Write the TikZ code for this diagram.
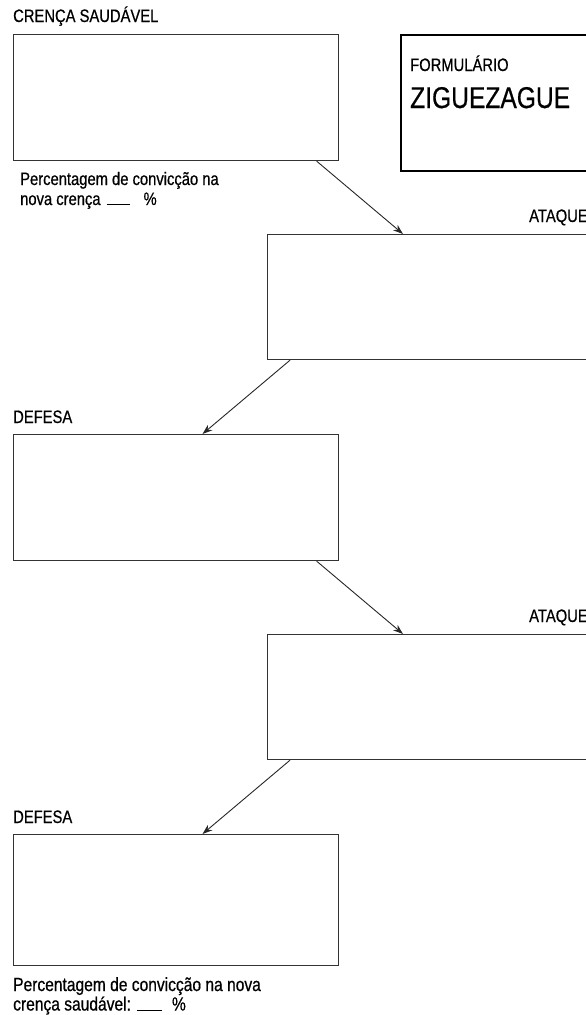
\documentclass[tikz,border=0pt]{standalone}
\usepackage{fontspec}
\setmainfont{Liberation Sans}[FakeStretch=0.82, FakeBold=0.6]
\usepackage{tikz}
\usetikzlibrary{arrows.meta}

\begin{document}
\begin{tikzpicture}[x=1pt, y=-1pt,
    box/.style={draw=black!80, line width=1.2pt, rectangle, inner sep=0pt, anchor=north west, minimum width=325pt, minimum height=126pt},
    widebox/.style={box, minimum width=360pt, minimum height=125pt},
    label/.style={anchor=base west, inner sep=0pt, text=black, font=\fontsize{18}{20}\selectfont},
    arrow/.style={draw=black!85, line width=0.9pt, -{Stealth[length=10pt, width=7pt]}}]
\useasboundingbox (0,0) rectangle (586,1015);
\clip (0,0) rectangle (586,1015);

% title box
\node[draw=black, line width=2.2pt, rectangle, inner sep=0pt, anchor=north west, minimum width=220pt, minimum height=136pt] (form) at (400,34) {};
\node[label] (formtitle) at (410,71) {FORMULÁRIO};
\node[label, font=\fontsize{30}{34}\selectfont] (zigzag) at (410,108) {ZIGUEZAGUE};

% boxes
\node[box] (crenca) at (12.5,34) {};
\node[widebox] (ataque1) at (267,234) {};
\node[box] (defesa1) at (12.5,434) {};
\node[widebox] (ataque2) at (267,634) {};
\node[box, minimum height=131pt] (defesa2) at (12.5,834) {};

% labels
\node[label] (crencalabel) at (13,22) {CRENÇA SAUDÁVEL};
\node[label] (ataque1label) at (529,222) {ATAQUE};
\node[label] (defesa1label) at (13,423) {DEFESA};
\node[label] (ataque2label) at (529,622) {ATAQUE};
\node[label] (defesa2label) at (13,823) {DEFESA};
\node[label, align=left] (nota1) at (20,205) {Percentagem de convicção na\\nova crença\hspace{6pt}\rule{23pt}{0.8pt}\hspace{14pt}\%};
\node[label, align=left, font=\fontsize{19}{19.5}\selectfont] (nota2) at (13,1010.5) {Percentagem de convicção na nova\\crença saudável:\hspace{6pt}\rule{25pt}{0.8pt}\hspace{10pt}\%};

% zigzag arrows
\draw[arrow] ([xshift=-22pt]crenca.south east) -- ([xshift=136pt]ataque1.north west);
\draw[arrow] ([xshift=23pt]ataque1.south west) -- ([xshift=190pt]defesa1.north west);
\draw[arrow] ([xshift=-22pt]defesa1.south east) -- ([xshift=136pt]ataque2.north west);
\draw[arrow] ([xshift=23pt]ataque2.south west) -- ([xshift=190pt]defesa2.north west);

\end{tikzpicture}
\end{document}
